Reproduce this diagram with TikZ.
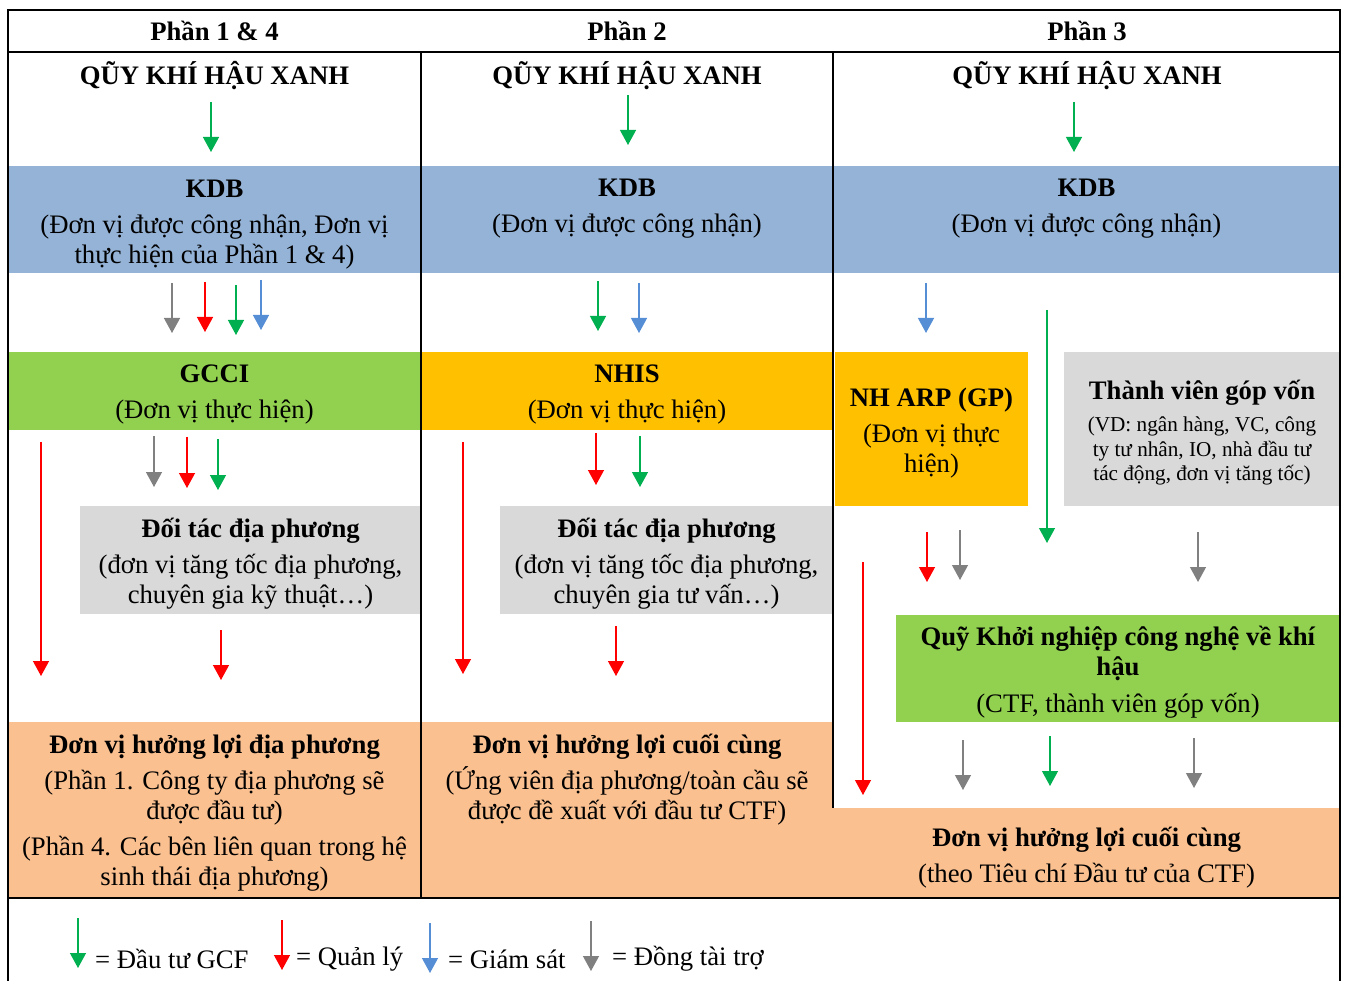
\documentclass[tikz,border=0pt]{standalone}
\usepackage{fontspec}
\setmainfont{Liberation Serif}
\usetikzlibrary{arrows.meta,positioning}

\definecolor{kdbblue}{HTML}{95B3D7}
\definecolor{implgreen}{HTML}{92D050}
\definecolor{implgold}{HTML}{FFC000}
\definecolor{partnergray}{HTML}{D9D9D9}
\definecolor{benorange}{HTML}{FAC090}
\definecolor{gcfgreen}{HTML}{00B050}
\definecolor{mgmtred}{HTML}{FF0000}
\definecolor{monblue}{HTML}{558ED5}
\definecolor{cofgray}{HTML}{808080}

\newcommand{\tvfont}{\fontsize{21.2}{24.5}\selectfont}

% name, style, x, y from, y to
\newcommand{\flowarrow}[5]{%
  \coordinate (#1a) at (#3,#4);
  \coordinate (#1b) at (#3,#5);
  \draw[#2] (#1a) -- (#1b);}

\begin{document}
\begin{tikzpicture}[
  x=1pt, y=-1pt,
  txt/.style={font=\fontsize{26.7}{30}\selectfont, align=center, inner sep=0pt},
  box/.style={fill=#1, inner sep=0pt, outer sep=0pt},
  frame/.style={line width=1.6pt},
  arrow/.style={line width=1.3pt, -{Triangle[width=16pt,length=15pt]}},
  invest/.style={arrow, color=gcfgreen},
  manage/.style={arrow, color=mgmtred},
  monitor/.style={arrow, color=monblue},
  cofund/.style={arrow, color=cofgray}
]
\useasboundingbox (0,0) rectangle (1347,981);

% boxes
\node[box=kdbblue, minimum width=413pt, minimum height=107pt] (kdb1) at (214.5,219.5) {};
\node[box=kdbblue, minimum width=412pt, minimum height=107pt] (kdb2) at (627,219.5) {};
\node[box=kdbblue, minimum width=507pt, minimum height=107pt] (kdb3) at (1086.5,219.5) {};
\node[box=implgreen, minimum width=413pt, minimum height=78pt] (gcci) at (214.5,391) {};
\node[box=implgold, minimum width=412pt, minimum height=78pt] (nhis) at (627,391) {};
\node[box=implgold, minimum width=193pt, minimum height=154pt] (arp) at (931.5,429) {};
\node[box=partnergray, minimum width=276pt, minimum height=154pt] (tv) at (1202,429) {};
\node[box=partnergray, minimum width=341pt, minimum height=108pt] (dt1) at (250.5,560) {};
\node[box=partnergray, minimum width=333pt, minimum height=108pt] (dt2) at (666.5,560) {};
\node[box=implgreen, minimum width=444pt, minimum height=107pt] (ctf) at (1118,668.5) {};
\node[box=benorange, minimum width=413pt, minimum height=176pt] (ben1) at (214.5,810) {};
\node[box=benorange, minimum width=412pt, minimum height=176pt] (ben2) at (627,810) {};
\node[box=benorange, minimum width=507pt, minimum height=90pt] (ben3) at (1086.5,853) {};

% texts
\node[txt] (hdr1) at (214.5,31) {\textbf{Phần 1 \& 4}};
\node[txt] (hdr2) at (627,31) {\textbf{Phần 2}};
\node[txt] (hdr3) at (1087,31) {\textbf{Phần 3}};
\node[txt] (gcf1) at (214.5,76) {\textbf{QŨY KHÍ HẬU XANH}};
\node[txt] (gcf2) at (627,76) {\textbf{QŨY KHÍ HẬU XANH}};
\node[txt] (gcf3) at (1087,76) {\textbf{QŨY KHÍ HẬU XANH}};

\node[txt] (kdb1t) at (214.5,224.5) {\textbf{KDB}\\[6pt](Đơn vị được công nhận, Đơn vị\\thực hiện của Phần 1 \& 4)};
\node[txt] (kdb2t) at (627,209) {\textbf{KDB}\\[6pt](Đơn vị được công nhận)};
\node[txt] (kdb3t) at (1086.5,209) {\textbf{KDB}\\[6pt](Đơn vị được công nhận)};
\node[txt] (gccit) at (214.5,395) {\textbf{GCCI}\\[6pt](Đơn vị thực hiện)};
\node[txt] (nhist) at (627,395) {\textbf{NHIS}\\[6pt](Đơn vị thực hiện)};
\node[txt] (arpt) at (931.5,433) {\textbf{NH ARP (GP)}\\[6pt](Đơn vị thực\\hiện)};
\node[txt] (tvt) at (1202,433) {\textbf{Thành viên góp vốn}\\[2pt]{\tvfont(VD: ngân hàng, VC, công}\\[-5pt]{\tvfont ty tư nhân, IO, nhà đầu tư}\\[-6pt]{\tvfont tác động, đơn vị tăng tốc)}};
\node[txt] (dt1t) at (250.5,564) {\textbf{Đối tác địa phương}\\[6pt](đơn vị tăng tốc địa phương,\\chuyên gia kỹ thuật…)};
\node[txt] (dt2t) at (666.5,564) {\textbf{Đối tác địa phương}\\[6pt](đơn vị tăng tốc địa phương,\\chuyên gia tư vấn…)};
\node[txt] (ctft) at (1118,672.5) {\textbf{Quỹ Khởi nghiệp công nghệ về khí}\\\textbf{hậu}\\[7pt](CTF, thành viên góp vốn)};
\node[txt] (ben1t) at (214.5,813) {\textbf{Đơn vị hưởng lợi địa phương}\\[6pt](Phần 1. Công ty địa phương sẽ\\được đầu tư)\\[6pt](Phần 4. Các bên liên quan trong hệ\\sinh thái địa phương)};
\node[txt] (ben2t) at (627,780) {\textbf{Đơn vị hưởng lợi cuối cùng}\\[6pt](Ứng viên địa phương/toàn cầu sẽ\\được đề xuất với đầu tư CTF)};
\node[txt] (ben3t) at (1086.5,858) {\textbf{Đơn vị hưởng lợi cuối cùng}\\[6pt](theo Tiêu chí Đầu tư của CTF)};

% table lines
\draw[frame] (8,981) -- (8,10) -- (1340,10) -- (1340,981);
\draw[frame] (8,52) -- (1340,52);
\draw[frame] (421,52) -- (421,898);
\draw[frame] (833,52) -- (833,808);
\draw[frame] (8,898) -- (1340,898);

% Phan 1 & 4
\flowarrow{p1g}{invest}{211}{102}{152}
\flowarrow{p1c}{cofund}{172}{283}{333}
\flowarrow{p1r}{manage}{205}{282}{332}
\flowarrow{p1i}{invest}{236}{285}{335}
\flowarrow{p1m}{monitor}{261}{280}{330}
\flowarrow{p1cc}{cofund}{154}{436}{487}
\flowarrow{p1rr}{manage}{187}{437}{488}
\flowarrow{p1ii}{invest}{218}{439}{490}
\flowarrow{p1long}{manage}{41}{442}{676}
\flowarrow{p1end}{manage}{221}{630}{680}

% Phan 2
\flowarrow{p2g}{invest}{628}{95}{145}
\flowarrow{p2i}{invest}{598}{281}{331}
\flowarrow{p2m}{monitor}{639}{283}{333}
\flowarrow{p2long}{manage}{463}{442}{674}
\flowarrow{p2r}{manage}{596}{433}{485}
\flowarrow{p2ii}{invest}{640}{436}{487}
\flowarrow{p2end}{manage}{616}{626}{676}

% Phan 3
\flowarrow{p3g}{invest}{1074}{102}{152}
\flowarrow{p3m}{monitor}{926}{283}{333}
\flowarrow{p3long}{invest}{1047}{310}{543}
\flowarrow{p3r}{manage}{927}{532}{582}
\flowarrow{p3c}{cofund}{960}{530}{580}
\flowarrow{p3cc}{cofund}{1198}{532}{582}
\flowarrow{p3rl}{manage}{863}{562}{795}
\flowarrow{p3c1}{cofund}{963}{740}{790}
\flowarrow{p3i}{invest}{1050}{736}{786}
\flowarrow{p3c2}{cofund}{1194}{738}{788}

% legend
\flowarrow{lg1}{invest}{78}{918}{968}
\flowarrow{lg2}{manage}{282}{920}{970}
\flowarrow{lg3}{monitor}{430}{923}{973}
\flowarrow{lg4}{cofund}{591}{921}{971}
\node[txt, anchor=west] (leg1) at (95,959) {= Đầu tư GCF};
\node[txt, anchor=west] (leg2) at (296,959) {= Quản lý};
\node[txt, anchor=west] (leg3) at (448,959) {= Giám sát};
\node[txt, anchor=west] (leg4) at (612,959) {= Đồng tài trợ};
\end{tikzpicture}
\end{document}
